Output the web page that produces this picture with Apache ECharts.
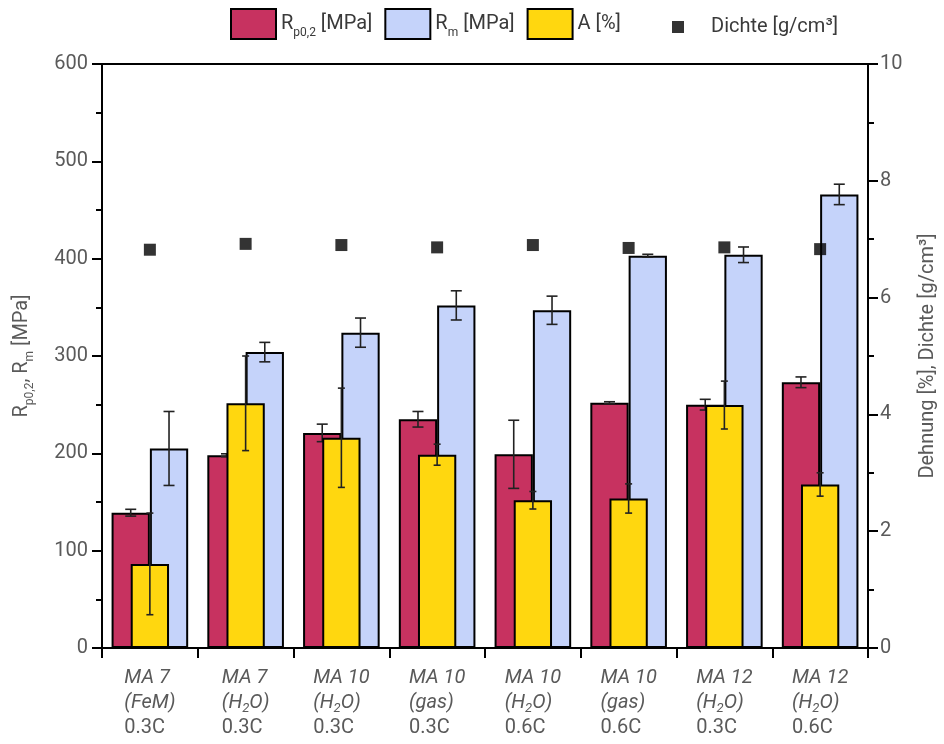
<!DOCTYPE html>
<html>
<head>
<meta charset="utf-8">
<script src="https://cdn.jsdelivr.net/npm/echarts@6/dist/echarts.min.js"></script>
<style>
html,body{margin:0;padding:0;background:#fff;}
#chart{width:944px;height:744px;}
</style>
</head>
<body>
<div id="chart"></div>
<script>
// ---- data ----
var alloys = ['MA 7', 'MA 7', 'MA 10', 'MA 10', 'MA 10', 'MA 10', 'MA 12', 'MA 12'];
var media = ['FeM', 'H2O', 'H2O', 'gas', 'H2O', 'gas', 'H2O', 'H2O'];
var carbon = ['0.3C', '0.3C', '0.3C', '0.3C', '0.6C', '0.6C', '0.3C', '0.6C'];
var rp02 = [139, 198, 221, 235, 199, 252, 250, 273];
var rp02Err = [3.5, 1.5, 9, 8, 35, 1, 5.5, 5.5];
var rm = [205, 304, 324, 352, 347, 403, 404, 466];
var rmErr = [38, 10, 15, 15, 14.5, 1.5, 8, 10.5];
var elong = [1.44, 4.19, 3.60, 3.31, 2.53, 2.56, 4.16, 2.80];
var elongErr = [0.87, 0.81, 0.85, 0.18, 0.15, 0.25, 0.41, 0.20];
var density = [6.82, 6.92, 6.90, 6.86, 6.90, 6.85, 6.86, 6.83];
var leftTicks = [0, 100, 200, 300, 400, 500, 600];
var rightTicks = [0, 2, 4, 6, 8, 10];

var categories = alloys.map(function (a, i) { return a + '|' + media[i] + '|' + carbon[i]; });

var labelColor = '#5a5a5a';
var fontFam = 'Roboto, "Liberation Sans", sans-serif';

function medLabel(m) {
  if (m === 'H2O') return '{i|(H}{isub|2}{i|O)}';
  return '{i|(' + m + ')}';
}

function errRenderer(offsetFrac, capW, color) {
  return function (params, api) {
    var idx = api.value(0), v = api.value(1), e = api.value(2);
    var bw = api.size([1, 0])[0];
    var c = api.coord([idx, v]);
    var x = c[0] + offsetFrac * bw;
    var yt = api.coord([idx, v + e])[1];
    var yb = api.coord([idx, v - e])[1];
    var st = { stroke: color, lineWidth: 1.6 };
    return {
      type: 'group',
      children: [
        { type: 'line', shape: { x1: x, y1: yt, x2: x, y2: yb }, style: st },
        { type: 'line', shape: { x1: x - capW / 2, y1: yt, x2: x + capW / 2, y2: yt }, style: st },
        { type: 'line', shape: { x1: x - capW / 2, y1: yb, x2: x + capW / 2, y2: yb }, style: st }
      ]
    };
  };
}

function errData(vals, errs) {
  return vals.map(function (v, i) { return [i, v, errs[i]]; });
}

var chart = echarts.init(document.getElementById('chart'), null, { renderer: 'canvas' });

var axisLineStyle = { color: '#000', width: 2 };

var option = {
  animation: false,
  backgroundColor: '#fff',
  textStyle: { fontFamily: fontFam },
  grid: {
    left: 102, right: 76, top: 64, bottom: 96,
    show: true, borderColor: '#000', borderWidth: 2,
    outerBoundsMode: 'none'
  },
  legend: [
    {
      data: [{ name: 'Rp', icon: 'rect' }, { name: 'Rm', icon: 'rect' }, { name: 'A', icon: 'rect' }],
      left: 225, top: 3,
      itemWidth: 45, itemHeight: 30, itemGap: 12,
      formatter: function (n) {
        if (n === 'Rp') return 'R{sub|p0,2} [MPa]';
        if (n === 'Rm') return 'R{sub|m} [MPa]';
        return 'A [%]';
      },
      textStyle: {
        fontSize: 20, color: '#3a3a3a', fontFamily: fontFam,
        rich: {
          sub: { fontSize: 12, color: '#3a3a3a', verticalAlign: 'bottom', lineHeight: 30, fontFamily: fontFam }
        }
      }
    },
    {
      data: [{ name: 'Dichte', icon: 'rect', itemStyle: { color: '#000' } }],
      left: 667, top: 12,
      itemWidth: 12, itemHeight: 12,
      formatter: function () { return 'Dichte [g/cm³]'; },
      textStyle: { fontSize: 20, color: '#3a3a3a', fontFamily: fontFam, padding: [0, 0, 0, 22] }
    }
  ],
  xAxis: [
    {
      type: 'category', data: categories, position: 'bottom',
      axisLine: { lineStyle: axisLineStyle },
      axisTick: { show: true, length: 10, lineStyle: axisLineStyle },
      axisLabel: {
        margin: 17, interval: 0,
        color: labelColor, fontFamily: fontFam,
        formatter: function (v) {
          var p = v.split('|');
          return '{i|' + p[0] + '}\n' + medLabel(p[1]) + '\n{n|' + p[2] + '}';
        },
        rich: {
          i: { fontSize: 20, fontStyle: 'italic', color: labelColor, lineHeight: 25, align: 'left', fontFamily: fontFam },
          isub: { fontSize: 13, fontStyle: 'italic', color: labelColor, lineHeight: 25, verticalAlign: 'bottom', align: 'left', fontFamily: fontFam },
          n: { fontSize: 20, color: labelColor, lineHeight: 25, align: 'left', fontFamily: fontFam }
        }
      },
      splitLine: { show: false }
    },
    {
      type: 'category', data: categories, show: false, position: 'bottom'
    }
  ],
  yAxis: [
    {
      type: 'value', min: leftTicks[0], max: leftTicks[leftTicks.length - 1], interval: 100,
      position: 'left',
      name: 'R{sub|p0,2}, R{sub|m} [MPa]',
      nameLocation: 'middle', nameGap: 66, nameRotate: 90,
      nameTextStyle: {
        fontSize: 20, color: labelColor, fontFamily: fontFam,
        rich: { sub: { fontSize: 12, color: labelColor, verticalAlign: 'bottom', lineHeight: 28, fontFamily: fontFam } }
      },
      axisLine: { show: true, lineStyle: axisLineStyle },
      axisTick: { show: true, length: 10, lineStyle: axisLineStyle },
      minorTick: { show: true, splitNumber: 2, length: 6, lineStyle: { color: '#000', width: 2 } },
      axisLabel: { fontSize: 20, color: labelColor, margin: 14, fontFamily: fontFam },
      splitLine: { show: false }
    },
    {
      type: 'value', min: rightTicks[0], max: rightTicks[rightTicks.length - 1], interval: 2,
      position: 'right',
      name: 'Dehnung [%], Dichte [g/cm³]',
      nameLocation: 'middle', nameGap: 50, nameRotate: 90,
      nameTextStyle: { fontSize: 20, color: labelColor, fontFamily: fontFam },
      axisLine: { show: true, lineStyle: axisLineStyle },
      axisTick: { show: true, length: 10, lineStyle: axisLineStyle },
      minorTick: { show: true, splitNumber: 2, length: 6, lineStyle: { color: '#000', width: 2 } },
      axisLabel: { fontSize: 20, color: labelColor, margin: 12, fontFamily: fontFam },
      splitLine: { show: false }
    }
  ],
  series: [
    {
      name: 'Rp', type: 'bar', xAxisIndex: 0, yAxisIndex: 0, data: rp02,
      barWidth: '40%', barGap: '0%', z: 2,
      itemStyle: { color: '#C73260', borderColor: '#000', borderWidth: 2 }
    },
    {
      name: 'Rm', type: 'bar', xAxisIndex: 0, yAxisIndex: 0, data: rm,
      barWidth: '40%', barGap: '0%', z: 2,
      itemStyle: { color: '#C5D3FA', borderColor: '#000', borderWidth: 2 }
    },
    {
      name: 'RpErr', type: 'custom', xAxisIndex: 0, yAxisIndex: 0, z: 3,
      renderItem: errRenderer(-0.2, 11, '#222'), data: errData(rp02, rp02Err)
    },
    {
      name: 'RmErr', type: 'custom', xAxisIndex: 0, yAxisIndex: 0, z: 3,
      renderItem: errRenderer(0.2, 11, '#222'), data: errData(rm, rmErr)
    },
    {
      name: 'A', type: 'bar', xAxisIndex: 1, yAxisIndex: 1, data: elong,
      barWidth: '40%', z: 4,
      itemStyle: { color: '#FFD70F', borderColor: '#000', borderWidth: 2 }
    },
    {
      name: 'AErr', type: 'custom', xAxisIndex: 1, yAxisIndex: 1, z: 5,
      renderItem: errRenderer(0, 7, '#222'), data: errData(elong, elongErr)
    },
    {
      name: 'Dichte', type: 'scatter', xAxisIndex: 1, yAxisIndex: 1, data: density,
      symbol: 'rect', symbolSize: 12, z: 6,
      itemStyle: { color: '#000' }
    }
  ]
};

chart.setOption(option);
</script>
</body>
</html>
